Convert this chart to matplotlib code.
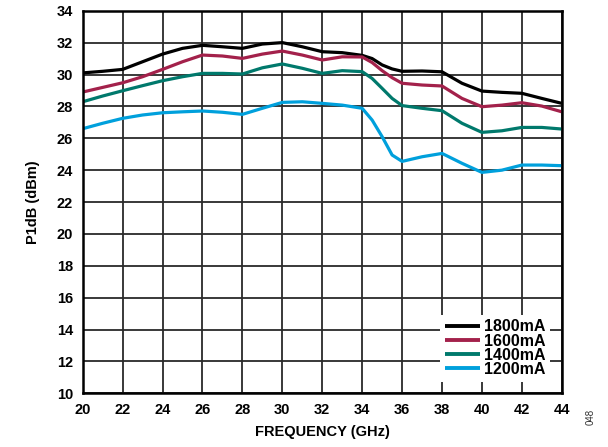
import matplotlib
matplotlib.use('Agg')
import matplotlib.pyplot as plt

# P1dB vs frequency
freq = [20, 21, 22, 23, 24, 25, 26, 27, 28, 29, 30, 31, 32, 33, 34, 34.5, 35, 35.5, 36, 37, 38, 39, 40, 41, 42, 43, 44]

p1db_1800 = [30.1, 30.2, 30.32, 30.8, 31.28, 31.64, 31.83, 31.74, 31.64, 31.91, 32.0, 31.74, 31.43, 31.37,
             31.2, 31.0, 30.6, 30.35, 30.2, 30.22, 30.17, 29.45, 28.96, 28.88, 28.82, 28.5, 28.19]
p1db_1600 = [28.9, 29.19, 29.48, 29.86, 30.32, 30.8, 31.22, 31.16, 31.01, 31.28, 31.47, 31.22, 30.91, 31.11,
             31.1, 30.75, 30.24, 29.8, 29.45, 29.34, 29.28, 28.5, 27.98, 28.08, 28.23, 28.02, 27.66]
p1db_1400 = [28.29, 28.65, 28.98, 29.3, 29.61, 29.86, 30.07, 30.07, 30.03, 30.42, 30.66, 30.39, 30.07, 30.24,
             30.18, 29.75, 29.13, 28.5, 28.05, 27.88, 27.73, 26.94, 26.37, 26.47, 26.68, 26.68, 26.58]
p1db_1200 = [26.6, 26.94, 27.25, 27.46, 27.6, 27.66, 27.71, 27.63, 27.5, 27.88, 28.25, 28.29, 28.19, 28.08,
             27.88, 27.14, 26.1, 24.95, 24.55, 24.84, 25.05, 24.43, 23.86, 24.0, 24.32, 24.32, 24.28]

series = [
    ('1800mA', p1db_1800, '#000000'),
    ('1600mA', p1db_1600, '#A3214B'),
    ('1400mA', p1db_1400, '#00796C'),
    ('1200mA', p1db_1200, '#00A0DC'),
]

plt.rcParams['font.family'] = ['Liberation Sans', 'DejaVu Sans']
plt.rcParams['font.weight'] = 'bold'

fig = plt.figure(figsize=(6.08, 4.47), dpi=100)
ax = fig.add_axes([0.136, 0.120, 0.788, 0.856])

for name, vals, col in series:
    ax.plot(freq, vals, color=col, linewidth=2.3, label=name, solid_capstyle='butt', solid_joinstyle='round')

ax.set_xlim(20, 44)
ax.set_ylim(10, 34)
ax.set_xticks(range(20, 45, 2))
ax.set_yticks(range(10, 35, 2))
ax.grid(True, color='#2a2a2a', linewidth=1.3)
ax.set_axisbelow(True)
for sp in ax.spines.values():
    sp.set_linewidth(1.8)
ax.tick_params(length=0, pad=7, labelsize=10.5)
for lbl in ax.get_xticklabels() + ax.get_yticklabels():
    lbl.set_fontweight('bold')

ax.set_xlabel('FREQUENCY (GHz)', fontsize=10.5, fontweight='bold', labelpad=6)
ax.set_ylabel('P1dB (dBm)', fontsize=10.5, fontweight='bold', labelpad=12)

leg = ax.legend(loc='lower right', bbox_to_anchor=(0.975, 0.03), frameon=True, fancybox=False,
                edgecolor='none', framealpha=1.0, fontsize=11.5, handlelength=2.2,
                handletextpad=0.2, labelspacing=-0.05, borderpad=0.3, borderaxespad=0)
for t in leg.get_texts():
    t.set_fontweight('bold')
for h in leg.get_lines():
    h.set_linewidth(2.8)

fig.text(0.972, 0.05, '048', rotation=90, fontsize=7, fontweight='normal', color='#333333',
         ha='center', va='bottom')

fig.savefig('out.png', dpi=100)
